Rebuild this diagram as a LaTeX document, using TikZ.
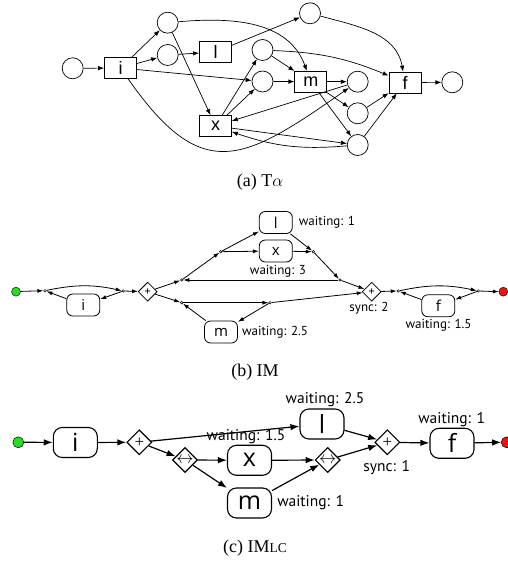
\documentclass[tikz,border=0pt]{standalone}
\usepackage{fontspec}
\setmainfont{Liberation Serif}
\newfontfamily\petrifont{Liberation Sans}
\newfontfamily\treefont{PT Sans}
\newfontfamily\boxfont{Open Sans}
\usetikzlibrary{arrows.meta,positioning,shapes.geometric}
\definecolor{startgreen}{RGB}{40,220,40}
\definecolor{endred}{RGB}{235,20,20}
\tikzset{
  place/.style={circle,draw,minimum size=21pt,inner sep=0pt,line width=0.7pt},
  trans/.style={rectangle,draw,minimum width=32pt,minimum height=21pt,inner sep=0pt,line width=0.7pt,
    font=\petrifont\fontsize{18}{18}\selectfont},
  pnarc/.style={-{Latex[length=6pt,width=4.5pt]},line width=0.7pt},
  act/.style={rectangle,draw,rounded corners=6pt,minimum width=33pt,minimum height=22pt,inner sep=0pt,
    line width=0.8pt,font=\boxfont\fontsize{15}{15}\selectfont},
  bigact/.style={act,rounded corners=9pt,minimum width=44pt,minimum height=30pt,line width=1.1pt,
    font=\boxfont\fontsize{25}{25}\selectfont},
  gate/.style={diamond,draw,minimum size=19pt,inner sep=0pt,line width=0.8pt,
    font=\treefont\fontsize{12}{12}\selectfont},
  biggate/.style={gate,minimum size=25pt,line width=1.1pt,font=\fontsize{17}{17}\selectfont},
  jn/.style={circle,draw,fill=white,minimum size=2.6pt,inner sep=0pt,line width=0.5pt},
  imarc/.style={-{Latex[length=6pt,width=4pt]},line width=0.8pt},
  bigarc/.style={-{Latex[length=9pt,width=6.5pt]},line width=1.2pt},
  wait/.style={inner sep=0pt,font=\treefont\fontsize{13}{13}\selectfont},
  bigwait/.style={inner sep=0pt,font=\treefont\fontsize{15.5}{15.5}\selectfont},
  caption/.style={font=\fontsize{18}{18}\selectfont}
}
\begin{document}
\begin{tikzpicture}[x=1pt,y=1pt]
  \useasboundingbox (0,0) rectangle (508,567);
  % (a) petri net
  \node[place] (src) at (72.7,498.7) {};
  \node[trans] (ti) at (120.5,499) {i};
  \node[place] (p1) at (167.7,544.3) {};
  \node[place] (p2) at (167.7,512) {};
  \node[trans] (tl) at (215.5,515) {l};
  \node[trans] (tx) at (215.5,441) {x};
  \node[place] (p3) at (262.5,517) {};
  \node[place] (p4) at (262.5,485.5) {};
  \node[trans] (tm) at (310.8,485.3) {m};
  \node[place] (ptop) at (310,553.7) {};
  \node[place] (q1) at (357.7,485.3) {};
  \node[place] (q2) at (357.7,453.7) {};
  \node[place] (q3) at (357.7,422) {};
  \node[trans] (tf) at (405,484.5) {f};
  \node[place] (snk) at (452.3,484.7) {};
  \draw[pnarc] (src) -- (ti);
  \draw[pnarc] (ti) -- (p1);
  \draw[pnarc] (ti) -- (p2);
  \draw[pnarc] (ti) -- (p4);
  \draw[pnarc] (ti) to[out=-55,in=-145,looseness=1.5] (q1);
  \draw[pnarc] (p1) -- (tx);
  \draw[pnarc] (p1) to[out=5,in=110] (tm);
  \draw[pnarc] (p2) -- (tl);
  \draw[pnarc] (tl) -- (ptop);
  \draw[pnarc] (ptop) to[out=-15,in=100] (tf);
  \draw[pnarc] (tx) -- (p3);
  \draw[pnarc] (tx) -- (p4);
  \draw[pnarc] (p3) -- (tm);
  \draw[pnarc] (p3) to[bend left=10] (tf);
  \draw[pnarc] (p4) -- (tm);
  \draw[pnarc] (tm) -- (q1);
  \draw[pnarc] (tm) -- (q2);
  \draw[pnarc] (tm) -- (q3);
  \draw[pnarc] (q1) -- (tx);
  \draw[pnarc] (tx) -- (q3);
  \draw[pnarc] (q3) to[bend left=12] (tx);
  \draw[pnarc] (q2) -- (tf);
  \draw[pnarc] (q3) -- (tf);
  \draw[pnarc] (tf) -- (snk);
  \node[caption] (capa) at (260,385) {(a) T$\alpha$};
  % (b) IM
  \fill[startgreen,draw=black,line width=0.4pt] (16,275.3) circle (4.5pt);
  \coordinate (bstart) at (20.5,275.6);
  \node[jn] (ja) at (45,276.3) {};
  \node[jn] (jb) at (123.3,276) {};
  \node[act] (bi) at (83.3,262) {i};
  \node[gate] (bp1) at (147.7,275.3) {+};
  \node[jn] (jc) at (181.7,287) {};
  \node[jn] (jd) at (181.7,264.3) {};
  \node[jn] (je) at (220.7,315.3) {};
  \node[act] (bl) at (275.8,344.5) {l};
  \node[act] (bx) at (275.8,316) {x};
  \node[jn] (jf) at (313.3,315.3) {};
  \node[jn] (jg) at (340,287) {};
  \node[jn] (jh) at (270,264.3) {};
  \node[act] (bm) at (221,235) {m};
  \node[gate] (bp2) at (371.7,275.3) {+};
  \node[jn] (jj) at (398.3,276) {};
  \node[jn] (jk) at (478.3,276) {};
  \node[act] (bf) at (438.3,261.2) {f};
  \fill[endred,draw=black,line width=0.4pt] (503.3,275.3) circle (4.5pt);
  \coordinate (bend) at (498.8,275.3);
  \draw[imarc] (bstart) -- (ja);
  \draw[imarc] (ja) to[bend left=12] (jb);
  \draw[imarc] (jb) -- (bi);
  \draw[imarc] (bi) -- (ja);
  \draw[imarc] (jb) -- (bp1);
  \draw[imarc] (bp1) -- (jc);
  \draw[imarc] (bp1) -- (jd);
  \draw[imarc] (jc) -- (je);
  \draw[imarc] (je) -- (bl);
  \draw[imarc] (je) -- (bx);
  \draw[imarc] (bl) -- (jf);
  \draw[imarc] (bx) -- (jf);
  \draw[imarc] (jf) -- (jg);
  \draw[imarc] (jg) -- (jc);
  \draw[imarc] (jg) -- (bp2);
  \draw[imarc] (jd) -- (jh);
  \draw[imarc] (jh) -- (bp2);
  \draw[imarc] (jh) -- (bm);
  \draw[imarc] (bm) -- (jd);
  \draw[imarc] (bp2) -- (jj);
  \draw[imarc] (jj) to[bend left=12] (jk);
  \draw[imarc] (jk) -- (bf);
  \draw[imarc] (bf) -- (jj);
  \draw[imarc] (jk) -- (bend);
  \node[wait,right=6pt of bl] (wl) {waiting: 1};
  \node[wait] (wx) at (278,295.3) {waiting: 3};
  \node[wait,right=4pt of bm] (wm) {waiting: 2.5};
  \node[wait] (sb) at (369,258.7) {sync: 2};
  \node[wait] (wf) at (438.5,242) {waiting: 1.5};
  \node[caption] (capb) at (255,195) {(b) IM};
  % (c) IMLC
  \fill[startgreen,draw=black,line width=0.5pt] (18.3,124.7) circle (5.5pt);
  \coordinate (cstart) at (23.8,124.7);
  \node[bigact] (ci) at (75.3,124.5) {i};
  \node[biggate] (cp1) at (139.3,124.7) {+};
  \node[biggate] (cx1) at (185,107) {$\leftrightarrow$};
  \node[bigact] (cx) at (249.5,106.7) {x};
  \node[bigact] (cm) at (249.5,64) {m};
  \node[bigact] (cl) at (322,143) {l};
  \node[biggate] (cx2) at (327.7,107) {$\leftrightarrow$};
  \node[biggate] (cp2) at (387.3,124.7) {+};
  \node[bigact] (cf) at (452,123.7) {f};
  \fill[endred,draw=black,line width=0.5pt] (506.7,124.7) circle (5.5pt);
  \coordinate (cend) at (501.2,124.7);
  \draw[bigarc] (cstart) -- (ci);
  \draw[bigarc] (ci) -- (cp1);
  \draw[bigarc] (cp1) -- (cl);
  \draw[bigarc] (cp1) -- (cx1);
  \draw[bigarc] (cx1) -- (cx);
  \draw[bigarc] (cx1) -- (cm);
  \draw[bigarc] (cl) -- (cp2);
  \draw[bigarc] (cx) -- (cx2);
  \draw[bigarc] (cm) -- (cx2);
  \draw[bigarc] (cx2) -- (cp2);
  \draw[bigarc] (cp2) -- (cf);
  \draw[bigarc] (cf) -- (cend);
  \node[bigwait] (wcl) at (325,167) {waiting: 2.5};
  \node[bigwait] (wcx) at (246,130.3) {waiting: 1.5};
  \node[bigwait] (wcf) at (451.7,147.7) {waiting: 1};
  \node[bigwait] (sc) at (386.7,99.7) {sync: 1};
  \node[bigwait,right=5pt of cm] (wcm) {waiting: 1};
  \node[caption] (capc) at (255,19) {(c) IM{\fontsize{13.5}{13.5}\selectfont LC}};
\end{tikzpicture}
\end{document}
